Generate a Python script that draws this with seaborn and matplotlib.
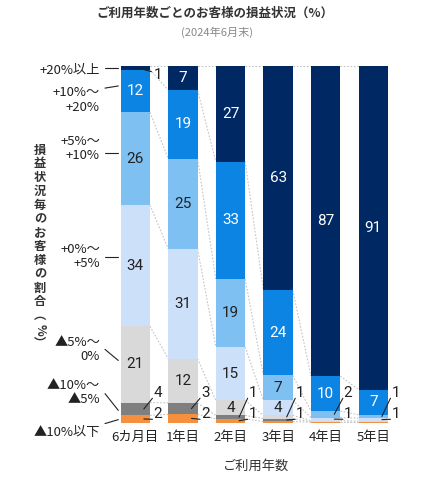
import numpy as np
import pandas as pd
import matplotlib
matplotlib.use("Agg")
import matplotlib.pyplot as plt
import seaborn as sns

# ---------------- data ----------------
categories = ["6カ月目", "1年目", "2年目", "3年目", "4年目", "5年目"]
group_labels = ["▲10%以下", "▲10%～\n▲5%", "▲5%～\n0%", "+0%～\n+5%",
                "+5%～\n+10%", "+10%～\n+20%", "+20%以上"]
loss_over_10 = [2.0, 2.3, 1.0, 0.3, 0.1, 0.1]
loss_5_10 = [3.6, 3.2, 1.0, 0.8, 0.1, 0.1]
loss_0_5 = [21.4, 12.4, 4.2, 0.9, 0.3, 0.2]
gain_0_5 = [34.0, 30.8, 15.0, 4.2, 0.9, 0.8]
gain_5_10 = [26.0, 25.3, 19.0, 7.0, 1.8, 1.0]
gain_10_20 = [12.0, 19.2, 33.0, 23.9, 9.8, 7.0]
gain_over_20 = [1.0, 6.8, 26.8, 62.9, 87.0, 90.8]

colors = ["#f5913e", "#7f7f7f", "#d9d9d9", "#cce0f9", "#7fc0f3", "#0b84e4", "#002863"]
text_colors = ["#222222"] * 5 + ["white", "white"]

sns.set_style("white")
plt.rcParams["font.family"] = ["Noto Sans CJK JP", "DejaVu Sans"]

stack = np.array([loss_over_10, loss_5_10, loss_0_5, gain_0_5,
                  gain_5_10, gain_10_20, gain_over_20])
cum = np.cumsum(stack, axis=0)
n_layers, n_cat = stack.shape
W = 0.616

fig = plt.figure(figsize=(4.3, 4.8), dpi=100)
ax = fig.add_axes([111.5 / 430, (480 - 422.5) / 480, (397.1 - 111.5) / 430, 356.5 / 480])

df = pd.DataFrame({"cat": categories})
for k in reversed(range(n_layers)):
    df["v"] = cum[k]
    sns.barplot(data=df, x="cat", y="v", order=categories, color=colors[k],
                saturation=1, width=W, errorbar=None, linewidth=0, ax=ax, zorder=3)

ax.set_xlim(-0.5, n_cat - 0.5)
ax.set_ylim(0, 100)
for s in ax.spines.values():
    s.set_visible(False)
ax.set_yticks([])
ax.set_ylabel("")
ax.set_xlabel("")
ax.tick_params(axis="x", length=0, pad=6, labelsize=9.5, labelcolor="#222222")

# dotted connectors between bars
bounds = np.vstack([np.zeros(n_cat), cum])
for i in range(n_cat - 1):
    for k in range(bounds.shape[0]):
        ax.plot([i + W / 2, i + 1 - W / 2], [bounds[k, i], bounds[k, i + 1]],
                ls=(0, (1.5, 1.5)), color="#c4c4c4", lw=0.8, zorder=2)

# value labels
num_font = ["Roboto", "DejaVu Sans"]
slots = [2.5, 8.4]
for i in range(n_cat):
    outs = []
    for k in range(n_layers):
        v = stack[k, i]
        mid = cum[k, i] - v / 2
        if v >= 3.95:
            ax.text(i, mid, f"{round(v)}", ha="center", va="center", fontsize=11,
                    color=text_colors[k], family=num_font, zorder=5)
        elif v >= 0.5:
            if k == n_layers - 1:
                ax.plot([i + 0.05, i + 0.34], [mid, 98.4], color="#222222", lw=0.8,
                        zorder=5, clip_on=False)
                ax.text(i + 0.47, 97.5, f"{round(v)}", ha="center", va="center",
                        fontsize=11, color="#222222", family=num_font, zorder=5)
            else:
                outs.append((k, v, mid))
    for j, (k, v, mid) in enumerate(outs[:2]):
        ly = slots[j]
        ax.plot([i + 0.18, i + 0.36], [mid, ly - 1.6], color="#222222", lw=0.8,
                zorder=5, clip_on=False)
        ax.text(i + 0.47, ly, f"{round(v)}", ha="center", va="center",
                fontsize=11, color="#222222", family=num_font, zorder=5)

# category labels on the left
label_y = [-2.8, 8.4, 20.5, 46.6, 76.8, 90.4, 98.9]
lead = [(-0.3, 0.8), (8.1, 3.4), (20.5, 17.4), (46.5, 46.5),
        (75.6, 75.6), (93.8, 94.4), (99.3, 99.3)]
x_text = -0.5 - 11.5 / 47.6
for k in range(n_layers):
    ax.text(x_text, label_y[k], group_labels[k], ha="right", va="center",
            fontsize=9.5, color="#222222", linespacing=1.15, clip_on=False)
    ax.plot([-0.5 - 6.5 / 47.6, -0.5 + 6.8 / 47.6], list(lead[k]),
            color="#222222", lw=0.8, clip_on=False, zorder=5)

# vertical y label
ychars = list("損益状況毎のお客様の割合") + ["︵", "%", "︶"]
y0 = 150
for j, ch in enumerate(ychars):
    fig.text(40 / 430, 1 - (y0 + j * 13.8) / 480, ch, ha="center", va="center",
             fontsize=8.8, fontweight="bold", color="#333333",
             rotation=-90 if ch == "%" else 0)

# titles
fig.text(215 / 430, 1 - 13 / 480, "ご利用年数ごとのお客様の損益状況（%）", ha="center",
         va="center", fontsize=9, fontweight="bold", color="#333333")
fig.text(217 / 430, 1 - 32 / 480, "(2024年6月末)", ha="center", va="center",
         fontsize=8, color="#888888")
fig.text(256 / 430, 1 - 466 / 480, "ご利用年数", ha="center", va="center",
         fontsize=9.5, color="#333333")

fig.savefig("out.png", dpi=100)
